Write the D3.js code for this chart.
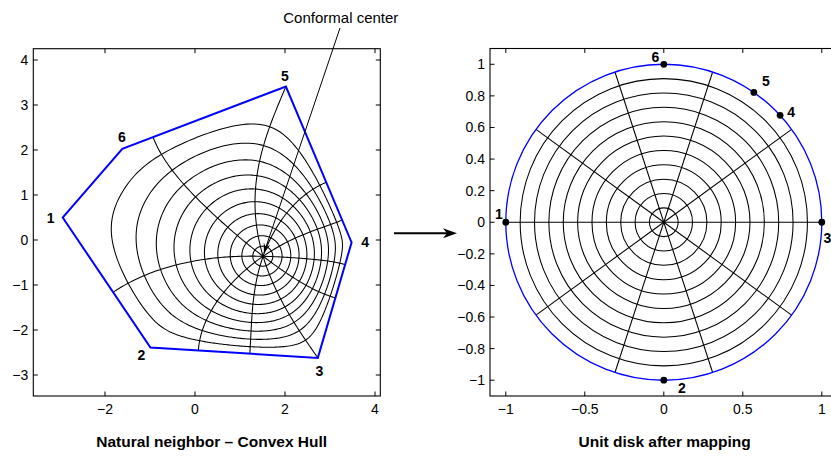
<!DOCTYPE html>
<html><head><meta charset="utf-8">
<script src="https://cdn.jsdelivr.net/npm/d3@7"></script>
<style>
body{margin:0;background:#fff}
svg{display:block}
text{font-family:"Liberation Sans",Arial,Helvetica,sans-serif;fill:#000}
</style>
</head><body>
<svg id="chart" width="831" height="457"></svg>
<script>
// ================= DATA =================
const vertexLabels = ["1", "2", "3", "4", "5", "6"];
// convex hull vertices (left panel, data units), order 1..6
const hullX = [-2.94, -0.99, 2.73, 3.48, 2.02, -1.615];
const hullY = [0.50, -2.39, -2.62, -0.055, 3.41, 2.025];
// conformal centre of the hull
const conformalCenter = [1.52, -0.36];
// angles (deg) on the unit circle whose rays end at hull vertices 1..6 (3 and 5 read exactly, others start guesses)
const prevertexDeg = [166, 202, 288, 8, 108, 150];
// polar grid of the unit disk
const gridRadii = [0.0909, 0.1818, 0.2727, 0.3636, 0.4545, 0.5455, 0.6364, 0.7273, 0.8182, 0.9091];
const rayAnglesDeg = [0, 36, 72, 108, 144, 180, 216, 252, 288, 324];
// vertex images on the unit disk (right panel)
const diskPointX = [-1, 0, 1, 0.736, 0.570, 0];
const diskPointY = [0, -1, 0, 0.677, 0.822, 1];
// ticks
const leftXTicks = [-2, 0, 2, 4];
const leftYTicks = [-3, -2, -1, 0, 1, 2, 3, 4];
const rightXTicks = [-1, -0.5, 0, 0.5, 1];
const rightYTicks = [-1, -0.8, -0.6, -0.4, -0.2, 0, 0.2, 0.4, 0.6, 0.8, 1];
const leftTitle = "Natural neighbor \u2013 Convex Hull";
const rightTitle = "Unit disk after mapping";
const annotationText = "Conformal center";

// ================= CONFORMAL (Schwarz–Christoffel) MAP =================
const nV = hullX.length;
const P = hullX.map((x, i) => [x, hullY[i]]);
const betas = P.map((p, k) => {
  const a = P[(k - 1 + nV) % nV], b = P[(k + 1) % nV];
  const d1 = [p[0] - a[0], p[1] - a[1]], d2 = [b[0] - p[0], b[1] - p[1]];
  const turn = Math.atan2(d1[0] * d2[1] - d1[1] * d2[0], d1[0] * d2[0] + d1[1] * d2[1]);
  return -turn / Math.PI;
});
function integrand(zs, x, y) {
  let L = 0, T = 0;
  for (let j = 0; j < zs.length; j++) {
    const zr = zs[j][0], zi = zs[j][1];
    const ur = 1 - (x * zr + y * zi);
    const ui = -(y * zr - x * zi);
    L += betas[j] * 0.5 * Math.log(ur * ur + ui * ui);
    T += betas[j] * Math.atan2(ui, ur);
  }
  const m = Math.exp(L);
  return [m * Math.cos(T), m * Math.sin(T)];
}
const GN = [-Math.sqrt(0.6), 0, Math.sqrt(0.6)], GW = [5 / 9, 8 / 9, 5 / 9];
function rayPath(zs, phi, nodes) {
  const c = Math.cos(phi), s = Math.sin(phi);
  let ar = 0, ai = 0;
  const out = [[0, 0]];
  for (let i = 1; i < nodes.length; i++) {
    const a = nodes[i - 1], b = nodes[i], h = (b - a) / 2, m = (a + b) / 2;
    for (let g = 0; g < 3; g++) {
      const t = m + h * GN[g];
      const F = integrand(zs, t * c, t * s);
      ar += GW[g] * F[0] * h; ai += GW[g] * F[1] * h;
    }
    out.push([ar * c - ai * s, ar * s + ai * c]);
  }
  return out;
}
const toEdge = [];
for (let i = 0; i <= 60; i++) toEdge.push(0.9 * i / 60);
for (let i = 1; i <= 30; i++) toEdge.push(1 - 0.1 * Math.pow(1 - i / 30, 4));

const deg = Math.PI / 180;
const fixed3 = prevertexDeg[2] * deg, fixed5 = prevertexDeg[4] * deg;
function buildZ(p) {
  const th = [p[0], p[1], fixed3, p[2], fixed5, p[3]];
  return th.map(t => [Math.cos(t), Math.sin(t)]);
}
const lam = 0.5;
function resid(p) {
  const zs = buildZ(p), A = [p[4], p[5]];
  const w = zs.map(z => { const pa = rayPath(zs, Math.atan2(z[1], z[0]), toEdge); return pa[pa.length - 1]; });
  let nr = 0, ni = 0, den = 0;
  w.forEach((wk, k) => {
    const dr = P[k][0] - A[0], di = P[k][1] - A[1];
    nr += wk[0] * dr + wk[1] * di; ni += wk[0] * di - wk[1] * dr;
    den += wk[0] * wk[0] + wk[1] * wk[1];
  });
  const C = [nr / den, ni / den];
  const r = [];
  w.forEach((wk, k) => {
    r.push(A[0] + C[0] * wk[0] - C[1] * wk[1] - P[k][0]);
    r.push(A[1] + C[0] * wk[1] + C[1] * wk[0] - P[k][1]);
  });
  r.push(lam * (A[0] - conformalCenter[0]), lam * (A[1] - conformalCenter[1]));
  return { r, C, zs, A };
}
function sumsq(r) { return r.reduce((s, v) => s + v * v, 0); }
function solveLin(M, b) {
  const n = b.length, a = M.map((row, i) => row.concat([b[i]]));
  for (let c = 0; c < n; c++) {
    let piv = c;
    for (let r = c + 1; r < n; r++) if (Math.abs(a[r][c]) > Math.abs(a[piv][c])) piv = r;
    [a[c], a[piv]] = [a[piv], a[c]];
    for (let r = c + 1; r < n; r++) {
      const f = a[r][c] / a[c][c];
      for (let k = c; k <= n; k++) a[r][k] -= f * a[c][k];
    }
  }
  const x = new Array(n).fill(0);
  for (let r = n - 1; r >= 0; r--) {
    let s = a[r][n];
    for (let k = r + 1; k < n; k++) s -= a[r][k] * x[k];
    x[r] = s / a[r][r];
  }
  return x;
}
function solveMap() {
  let p = [prevertexDeg[0] * deg, prevertexDeg[1] * deg, prevertexDeg[3] * deg, prevertexDeg[5] * deg,
           conformalCenter[0], conformalCenter[1]];
  let cur = resid(p), cost = sumsq(cur.r), mu = 1e-3;
  for (let it = 0; it < 50; it++) {
    const n = p.length, m = cur.r.length, J = [];
    for (let i = 0; i < m; i++) J.push(new Array(n));
    for (let j = 0; j < n; j++) {
      const pp = p.slice(), h = 1e-6; pp[j] += h;
      const rr = resid(pp).r;
      for (let i = 0; i < m; i++) J[i][j] = (rr[i] - cur.r[i]) / h;
    }
    const JTJ = [], g = [];
    for (let a = 0; a < n; a++) {
      JTJ.push(new Array(n).fill(0)); g.push(0);
      for (let i = 0; i < m; i++) g[a] += J[i][a] * cur.r[i];
      for (let b = 0; b < n; b++) for (let i = 0; i < m; i++) JTJ[a][b] += J[i][a] * J[i][b];
    }
    let improved = false;
    for (let t = 0; t < 12; t++) {
      const M = JTJ.map((row, a) => row.map((v, b) => a === b ? v * (1 + mu) + 1e-12 : v));
      const d = solveLin(M, g.map(v => -v));
      const pn = p.map((v, j) => v + d[j]);
      const rn = resid(pn), cn = sumsq(rn.r);
      if (cn < cost) { p = pn; cur = rn; cost = cn; mu *= 0.3; improved = true; break; }
      mu *= 10;
    }
    if (!improved || cost < 1e-14) break;
  }
  return cur;
}
const map = solveMap();
const mapC = map.C, mapA = map.A, mapZ = map.zs;
const toPlane = v => [mapA[0] + mapC[0] * v[0] - mapC[1] * v[1], mapA[1] + mapC[0] * v[1] + mapC[1] * v[0]];

// level curves (images of circles)
const levelNodes = [0], levelIdx = [];
{
  let prev = 0;
  gridRadii.forEach(r => {
    for (let s = 1; s <= 8; s++) levelNodes.push(prev + (r - prev) * s / 8);
    levelIdx.push(levelNodes.length - 1);
    prev = r;
  });
}
const levelCurves = gridRadii.map(() => []);
for (let i = 0; i < 360; i++) {
  const path = rayPath(mapZ, i * deg, levelNodes);
  levelIdx.forEach((idx, k) => levelCurves[k].push(toPlane(path[idx])));
}
const rayCurves = rayAnglesDeg.map(a => rayPath(mapZ, a * deg, toEdge).map(toPlane));

// ================= DRAWING =================
const svg = d3.select("#chart");
const boxL = { x0: 33.3, x1: 380.3, y0: 48.7, y1: 396 };
const boxR = { x0: 490, x1: 837.6, y0: 48.5, y1: 396 };
const xL = d3.scaleLinear().domain([-3.593, 4.118]).range([boxL.x0, boxL.x1]);
const yL = d3.scaleLinear().domain([-3.467, 4.251]).range([boxL.y1, boxL.y0]);
const xR = d3.scaleLinear().domain([-1.1, 1.1]).range([boxR.x0, boxR.x1]);
const yR = d3.scaleLinear().domain([-1.1, 1.1]).range([boxR.y1, boxR.y0]);
const fmt = v => (v < 0 ? "\u2212" : "") + String(Math.abs(v));
const tickLen = 4.5;
const gridW = 1.05;

function drawAxes(g, box, xs, ys, xt, yt) {
  g.append("rect").attr("x", box.x0).attr("y", box.y0).attr("width", box.x1 - box.x0).attr("height", box.y1 - box.y0)
    .attr("fill", "none").attr("stroke", "#000").attr("stroke-width", 1.1);
  xt.forEach(v => {
    const x = xs(v);
    g.append("line").attr("x1", x).attr("x2", x).attr("y1", box.y1).attr("y2", box.y1 - tickLen).attr("stroke", "#000");
    g.append("line").attr("x1", x).attr("x2", x).attr("y1", box.y0).attr("y2", box.y0 + tickLen).attr("stroke", "#000");
    g.append("text").attr("x", x).attr("y", box.y1 + 17.5).attr("text-anchor", "middle").attr("font-size", 14).text(fmt(v));
  });
  yt.forEach(v => {
    const y = ys(v);
    g.append("line").attr("x1", box.x0).attr("x2", box.x0 + tickLen).attr("y1", y).attr("y2", y).attr("stroke", "#000");
    g.append("line").attr("x1", box.x1).attr("x2", box.x1 - tickLen).attr("y1", y).attr("y2", y).attr("stroke", "#000");
    g.append("text").attr("x", box.x0 - 5).attr("y", y + 5).attr("text-anchor", "end").attr("font-size", 14).text(fmt(v));
  });
}

// ---- left panel ----
const gl = svg.append("g");
drawAxes(gl, boxL, xL, yL, leftXTicks, leftYTicks);
const lineL = d3.line().x(d => xL(d[0])).y(d => yL(d[1]));
gl.selectAll("path.level").data(levelCurves).enter().append("path")
  .attr("d", d => lineL.curve(d3.curveLinearClosed)(d))
  .attr("fill", "none").attr("stroke", "#000").attr("stroke-width", gridW);
lineL.curve(d3.curveLinear);
gl.selectAll("path.ray").data(rayCurves).enter().append("path")
  .attr("d", d => lineL(d)).attr("fill", "none").attr("stroke", "#000").attr("stroke-width", gridW);
gl.append("path").attr("d", d3.line().x(d => xL(d[0])).y(d => yL(d[1])).curve(d3.curveLinearClosed)(P))
  .attr("fill", "none").attr("stroke", "#0000ff").attr("stroke-width", 2).attr("stroke-linejoin", "miter");
const leftLabelOffsets = [[-12, 1], [-9, 7], [1.5, 13], [13.5, 0], [-1, -11], [-0.5, -12]];
vertexLabels.forEach((lab, i) => {
  gl.append("text").attr("x", xL(hullX[i]) + leftLabelOffsets[i][0]).attr("y", yL(hullY[i]) + leftLabelOffsets[i][1] + 5)
    .attr("text-anchor", "middle").attr("font-size", 14).attr("font-weight", "bold").text(lab);
});
gl.append("text").attr("x", 211.7).attr("y", 447).attr("text-anchor", "middle").attr("font-size", 15.5)
  .attr("font-weight", "bold").text(leftTitle);

// annotation
const tipX = xL(conformalCenter[0]) + 0.5, tipY = yL(conformalCenter[1]) - 3;
const startX = 340, startY = 28;
gl.append("line").attr("x1", startX).attr("y1", startY).attr("x2", tipX).attr("y2", tipY).attr("stroke", "#000").attr("stroke-width", 1);
{
  const ang = Math.atan2(tipY - startY, tipX - startX), L = 10, W = 3.5;
  const bx = tipX - L * Math.cos(ang), by = tipY - L * Math.sin(ang);
  const nx = -Math.sin(ang), ny = Math.cos(ang);
  const mx = tipX - 0.6 * L * Math.cos(ang), my = tipY - 0.6 * L * Math.sin(ang);
  gl.append("path").attr("d", `M${tipX},${tipY}L${bx + nx * W},${by + ny * W}L${mx},${my}L${bx - nx * W},${by - ny * W}Z`).attr("fill", "#000");
}
gl.append("text").attr("x", 340.8).attr("y", 22.5).attr("text-anchor", "middle").attr("font-size", 15).text(annotationText);

// big arrow between panels
{
  const ax0 = 394, ax1 = 457, ay = 233.3;
  svg.append("line").attr("x1", ax0).attr("x2", ax1 - 8).attr("y1", ay).attr("y2", ay).attr("stroke", "#000").attr("stroke-width", 2);
  svg.append("path").attr("d", `M${ax1},${ay}L${ax1 - 14},${ay - 5}L${ax1 - 10},${ay}L${ax1 - 14},${ay + 5}Z`).attr("fill", "#000");
}

// ---- right panel ----
const gr = svg.append("g");
drawAxes(gr, boxR, xR, yR, rightXTicks, rightYTicks);
const unit = xR(1) - xR(0);
gr.selectAll("circle.lev").data(gridRadii).enter().append("circle")
  .attr("cx", xR(0)).attr("cy", yR(0)).attr("r", d => d * unit)
  .attr("fill", "none").attr("stroke", "#000").attr("stroke-width", gridW);
gr.selectAll("line.ray").data(rayAnglesDeg).enter().append("line")
  .attr("x1", xR(0)).attr("y1", yR(0))
  .attr("x2", d => xR(Math.cos(d * deg))).attr("y2", d => yR(Math.sin(d * deg)))
  .attr("stroke", "#000").attr("stroke-width", gridW);
gr.append("circle").attr("cx", xR(0)).attr("cy", yR(0)).attr("r", unit)
  .attr("fill", "none").attr("stroke", "#0000ff").attr("stroke-width", 1.3);
const rightLabelOffsets = [[-7, -8], [18, 7.4], [5.6, 16], [11, -3], [12, -11], [-8.4, -7.6]];
vertexLabels.forEach((lab, i) => {
  gr.append("circle").attr("cx", xR(diskPointX[i])).attr("cy", yR(diskPointY[i])).attr("r", 3.4).attr("fill", "#000");
  gr.append("text").attr("x", xR(diskPointX[i]) + rightLabelOffsets[i][0]).attr("y", yR(diskPointY[i]) + rightLabelOffsets[i][1] + 5)
    .attr("text-anchor", "middle").attr("font-size", 14).attr("font-weight", "bold").text(lab);
});
gr.append("text").attr("x", 664.7).attr("y", 447).attr("text-anchor", "middle").attr("font-size", 15.5)
  .attr("font-weight", "bold").text(rightTitle);
</script>
</body></html>
